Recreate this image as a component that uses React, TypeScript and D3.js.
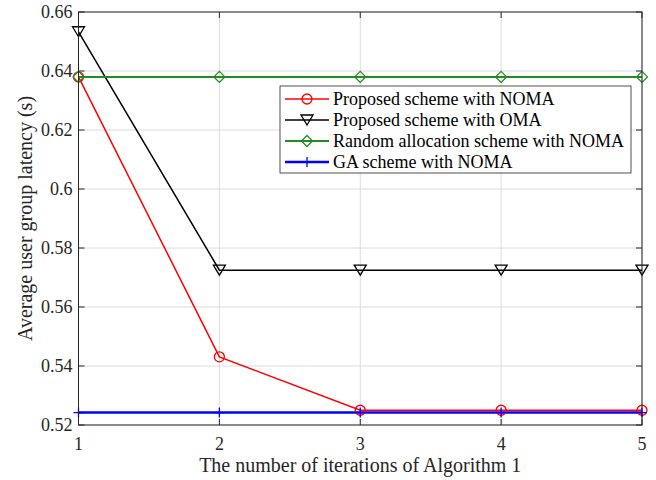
import React from "react";
import * as d3 from "d3";

const iterations = [1, 2, 3, 4, 5];
const proposedNoma = [0.638, 0.5431, 0.5250, 0.5250, 0.5250];
const proposedOma = [0.6533, 0.5725, 0.5725, 0.5725, 0.5725];
const randomNoma = [0.638, 0.638, 0.638, 0.638, 0.638];
const gaNoma = [0.5242, 0.5242, 0.5242, 0.5242, 0.5242];
const yTicks = [0.52, 0.54, 0.56, 0.58, 0.6, 0.62, 0.64, 0.66];
const legendLabels = [
  "Proposed scheme with NOMA",
  "Proposed scheme with OMA",
  "Random allocation scheme with NOMA",
  "GA scheme with NOMA",
];

const W = 656;
const H = 480;
const M = { left: 78.5, right: 642, top: 12, bottom: 425 };
const FONT = "'Liberation Serif', 'Times New Roman', serif";

type Marker = "circle" | "tri" | "diamond" | "plus";

const series: { values: number[]; color: string; width: number; marker: Marker; label: string }[] = [
  { values: proposedNoma, color: "#ff0000", width: 1.5, marker: "circle", label: legendLabels[0] },
  { values: proposedOma, color: "#000000", width: 1.5, marker: "tri", label: legendLabels[1] },
  { values: randomNoma, color: "#228b22", width: 2, marker: "diamond", label: legendLabels[2] },
  { values: gaNoma, color: "#0000ff", width: 2.5, marker: "plus", label: legendLabels[3] },
];

function MarkerShape({ kind, x, y, color }: { kind: Marker; x: number; y: number; color: string }) {
  if (kind === "circle") return <circle cx={x} cy={y} r={5} fill="none" stroke={color} strokeWidth={1.3} />;
  if (kind === "tri")
    return (
      <path d={`M${x - 6},${y - 5} L${x + 6},${y - 5} L${x},${y + 5} Z`} fill="none" stroke={color} strokeWidth={1.3} />
    );
  if (kind === "diamond")
    return (
      <path d={`M${x},${y - 5.5} L${x + 5.5},${y} L${x},${y + 5.5} L${x - 5.5},${y} Z`} fill="none" stroke={color} strokeWidth={1.3} />
    );
  return <path d={`M${x - 5},${y} L${x + 5},${y} M${x},${y - 5} L${x},${y + 5}`} stroke={color} strokeWidth={1.3} />;
}

export default function App() {
  const x = d3.scaleLinear().domain([1, 5]).range([M.left, M.right]);
  const y = d3.scaleLinear().domain([0.52, 0.66]).range([M.bottom, M.top]);
  const line = d3
    .line<number>()
    .x((_, i) => x(iterations[i]))
    .y((d) => y(d));

  const legend = { x: 280, y: 86, w: 351, h: 87 };

  return (
    <svg width={W} height={H} style={{ position: "absolute", left: 0, top: 0, background: "#fff" }}>
      <rect x={0} y={0} width={W} height={H} fill="#fff" />
      {/* grid */}
      {iterations.map((t) => (
        <line key={"gx" + t} x1={x(t)} x2={x(t)} y1={M.top} y2={M.bottom} stroke="#dcdcdc" strokeWidth={1} />
      ))}
      {yTicks.map((t) => (
        <line key={"gy" + t} x1={M.left} x2={M.right} y1={y(t)} y2={y(t)} stroke="#dcdcdc" strokeWidth={1} />
      ))}
      {/* series lines */}
      {series.map((s) => (
        <path key={s.label} d={line(s.values) ?? ""} fill="none" stroke={s.color} strokeWidth={s.width} />
      ))}
      {series.map((s) =>
        s.values.map((v, i) => (
          <MarkerShape key={s.label + i} kind={s.marker} x={x(iterations[i])} y={y(v)} color={s.color} />
        ))
      )}
      {/* axes box and inward ticks */}
      <rect x={M.left} y={M.top} width={M.right - M.left} height={M.bottom - M.top} fill="none" stroke="#262626" strokeWidth={1} />
      {iterations.map((t) => (
        <g key={"tx" + t}>
          <line x1={x(t)} x2={x(t)} y1={M.bottom} y2={M.bottom - 6} stroke="#262626" />
          <line x1={x(t)} x2={x(t)} y1={M.top} y2={M.top + 6} stroke="#262626" />
          <text x={x(t)} y={M.bottom + 25} textAnchor="middle" fontFamily={FONT} fontSize={18} fill="#262626">
            {t}
          </text>
        </g>
      ))}
      {yTicks.map((t) => (
        <g key={"ty" + t}>
          <line x1={M.left} x2={M.left + 6} y1={y(t)} y2={y(t)} stroke="#262626" />
          <line x1={M.right} x2={M.right - 6} y1={y(t)} y2={y(t)} stroke="#262626" />
          <text x={M.left - 6} y={y(t) + 6} textAnchor="end" fontFamily={FONT} fontSize={18} fill="#262626">
            {d3.format("")(t)}
          </text>
        </g>
      ))}
      {/* axis titles */}
      <text x={(M.left + M.right) / 2} y={472} textAnchor="middle" fontFamily={FONT} fontSize={20} fill="#262626">
        The number of iterations of Algorithm 1
      </text>
      <text
        transform={`translate(32,${(M.top + M.bottom) / 2}) rotate(-90)`}
        textAnchor="middle"
        fontFamily={FONT}
        fontSize={20}
        fill="#262626"
      >
        Average user group latency (s)
      </text>
      {/* legend */}
      <rect x={legend.x} y={legend.y} width={legend.w} height={legend.h} fill="#fff" stroke="#262626" strokeWidth={0.8} />
      {series.map((s, i) => {
        const cy = legend.y + 13 + i * 21;
        return (
          <g key={"lg" + i}>
            <line x1={legend.x + 5} x2={legend.x + 49} y1={cy} y2={cy} stroke={s.color} strokeWidth={s.width} />
            <MarkerShape kind={s.marker} x={legend.x + 27} y={cy} color={s.color} />
            <text x={legend.x + 53} y={cy + 6} fontFamily={FONT} fontSize={18} fill="#000">
              {s.label}
            </text>
          </g>
        );
      })}
    </svg>
  );
}
